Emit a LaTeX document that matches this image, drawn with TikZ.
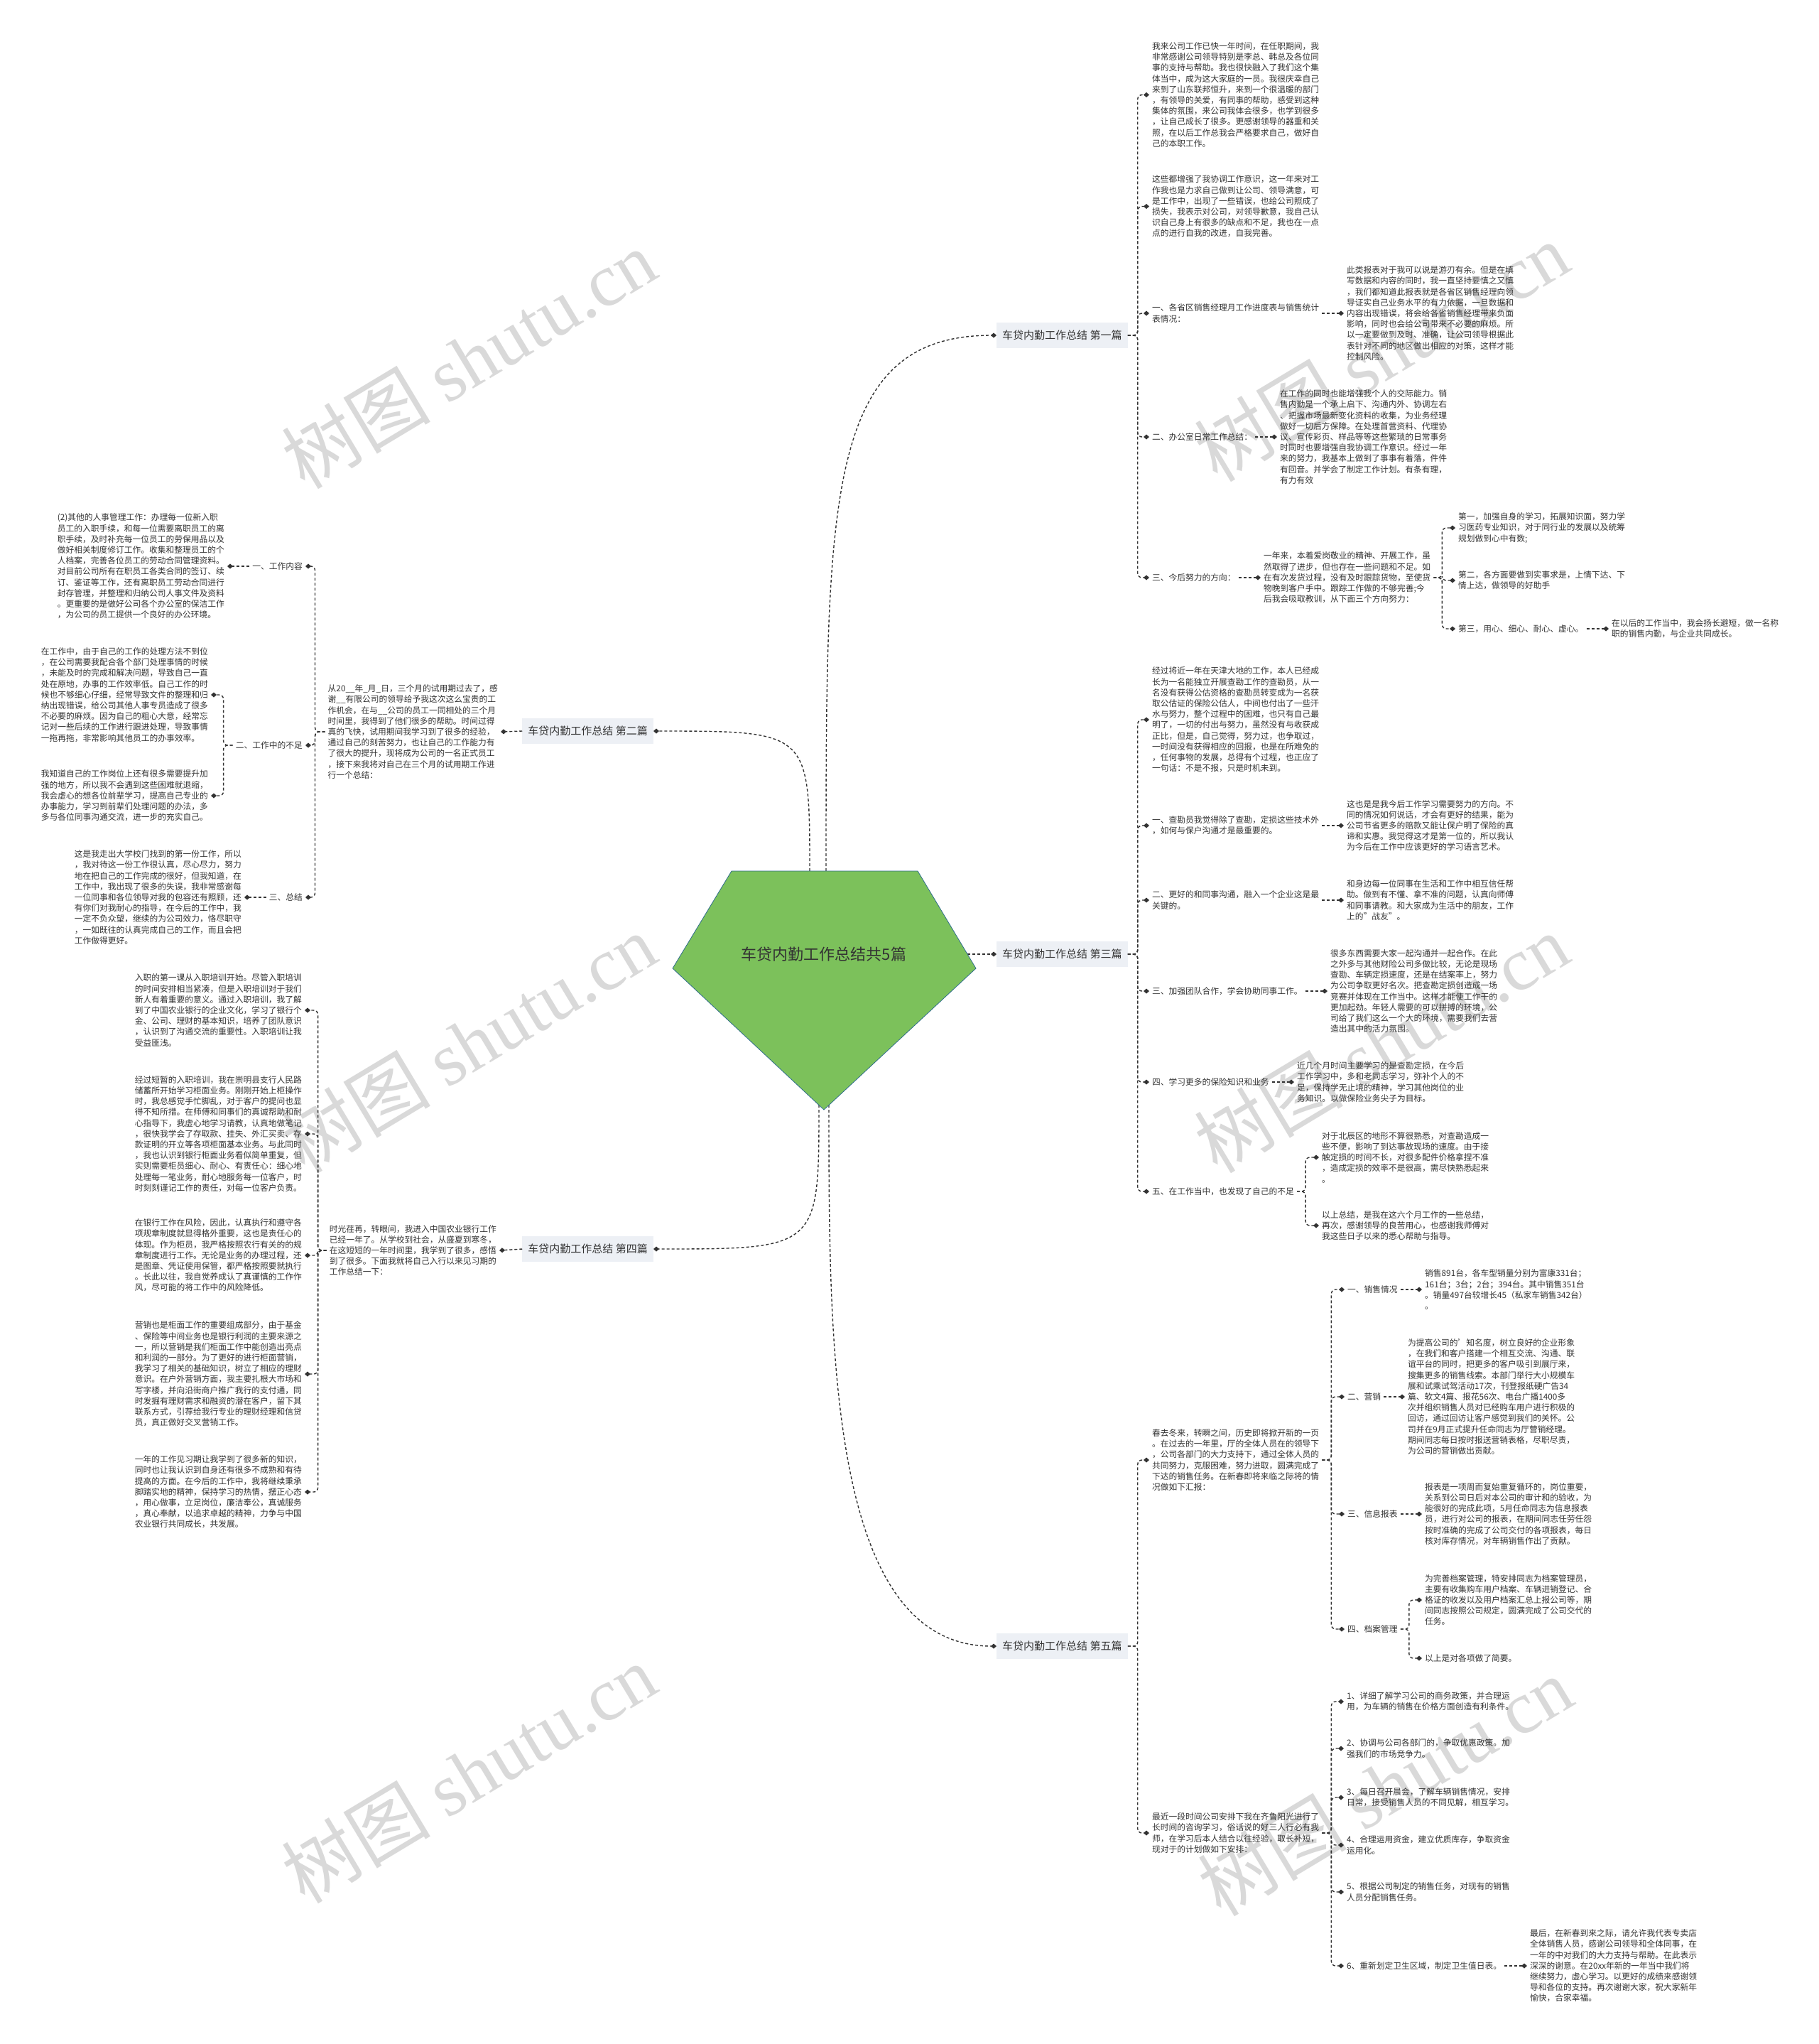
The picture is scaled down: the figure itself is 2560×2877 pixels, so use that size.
\documentclass[tikz,border=0pt]{standalone}
\usepackage{fontspec}
\setmainfont{Noto Sans CJK SC}
\newfontfamily\wmserif{Liberation Serif}
\usetikzlibrary{arrows.meta}
\definecolor{rootgreen}{HTML}{7CC15B}
\definecolor{rootedge}{HTML}{2F6D8C}
\definecolor{labelbg}{HTML}{EDF0F5}
\definecolor{txtdark}{HTML}{333333}
\definecolor{wmgray}{HTML}{D9D9D9}
\begin{document}
\begin{tikzpicture}[x=1pt,y=-1pt,
  txt/.style={align=left,inner xsep=4pt,inner ysep=2pt,text=txtdark,font=\fontsize{11.75}{15.2}\selectfont},
  branch/.style={fill=labelbg,text=txtdark,inner xsep=8pt,inner ysep=0pt,minimum height=36pt,font=\fontsize{15}{18}\selectfont},
  conn/.style={draw=txtdark,line width=1.4pt,dash pattern=on 4pt off 3pt,rounded corners=6pt,-{Diamond[length=8pt,width=7pt]}},
  wmark/.style={text=wmgray,rotate=31,font=\fontsize{105}{105}\selectfont}]
\useasboundingbox (0,0) rectangle (2560,2877);
\fill[white] (0,0) rectangle (2560,2877);
\node[wmark] (wm1) at (660,505) {树图 {\wmserif shutu.cn}};
\node[wmark] (wm2) at (1945,495) {树图 {\wmserif shutu.cn}};
\node[wmark] (wm3) at (660,1468) {树图 {\wmserif shutu.cn}};
\node[wmark] (wm4) at (1945,1468) {树图 {\wmserif shutu.cn}};
\node[wmark] (wm5) at (660,2496) {树图 {\wmserif shutu.cn}};
\node[wmark] (wm6) at (1950,2514) {树图 {\wmserif shutu.cn}};

\coordinate (pA) at (1030,1226);
\coordinate (pB) at (1292,1226);
\coordinate (pC) at (1374,1363);
\coordinate (pD) at (1160,1562);
\coordinate (pE) at (947,1363);
\coordinate (o1) at (1163,1226);
\coordinate (o2) at (1140,1226);
\coordinate (o3) at (1362,1343);
\coordinate (o4) at (1153,1555);
\coordinate (o5) at (1167,1555);

\node[branch,anchor=west] (b1) at (1403,472) {车贷内勤工作总结 第一篇};
\node[branch,anchor=east] (b2) at (920,1029) {车贷内勤工作总结 第二篇};
\node[branch,anchor=west] (b3) at (1403,1343) {车贷内勤工作总结 第三篇};
\node[branch,anchor=east] (b4) at (920,1758) {车贷内勤工作总结 第四篇};
\node[branch,anchor=west] (b5) at (1403,2317) {车贷内勤工作总结 第五篇};

% 第一篇
\node[txt,anchor=west] (b1p1) at (1618,133.5) {我来公司工作已快一年时间，在任职期间，我\\非常感谢公司领导特别是李总、韩总及各位同\\事的支持与帮助。我也很快融入了我们这个集\\体当中，成为这大家庭的一员。我很庆幸自己\\来到了山东联邦恒升，来到一个很温暖的部门\\，有领导的关爱，有同事的帮助，感受到这种\\集体的氛围，来公司我体会很多，也学到很多\\，让自己成长了很多。更感谢领导的器重和关\\照，在以后工作总我会严格要求自己，做好自\\己的本职工作。};
\node[txt,anchor=west] (b1p2) at (1618,290.5) {这些都增强了我协调工作意识，这一年来对工\\作我也是力求自己做到让公司、领导满意，可\\是工作中，出现了一些错误，也给公司照成了\\损失，我表示对公司，对领导歉意，我自己认\\识自己身上有很多的缺点和不足，我也在一点\\点的进行自我的改进，自我完善。};
\node[txt,anchor=west] (b1i1) at (1618,441) {一、各省区销售经理月工作进度表与销售统计\\表情况：};
\node[txt,anchor=west] (b1i1s) at (1892,441) {此类报表对于我可以说是游刃有余。但是在填\\写数据和内容的同时，我一直坚持要慎之又慎\\，我们都知道此报表就是各省区销售经理向领\\导证实自己业务水平的有力依据，一旦数据和\\内容出现错误，将会给各省销售经理带来负面\\影响，同时也会给公司带来不必要的麻烦。所\\以一定要做到及时、准确，让公司领导根据此\\表针对不同的地区做出相应的对策，这样才能\\控制风险。};
\node[txt,anchor=west] (b1i2) at (1618,615) {二、办公室日常工作总结：};
\node[txt,anchor=west] (b1i2s) at (1798,615) {在工作的同时也能增强我个人的交际能力。销\\售内勤是一个承上启下、沟通内外、协调左右\\、把握市场最新变化资料的收集，为业务经理\\做好一切后方保障。在处理首营资料、代理协\\议、宣传彩页、样品等等这些繁琐的日常事务\\时同时也要增强自我协调工作意识。经过一年\\来的努力，我基本上做到了事事有着落，件件\\有回音。并学会了制定工作计划。有条有理，\\有力有效};
\node[txt,anchor=west] (b1i3) at (1618,813) {三、今后努力的方向：};
\node[txt,anchor=west] (b1i3s) at (1775,813) {一年来，本着爱岗敬业的精神、开展工作，虽\\然取得了进步，但也存在一些问题和不足。如\\在有次发货过程，没有及时跟踪货物，至使货\\物晚到客户手中。跟踪工作做的不够完善;今\\后我会吸取教训，从下面三个方向努力：};
\node[txt,anchor=west] (b1i3a) at (2049,743) {第一，加强自身的学习，拓展知识面，努力学\\习医药专业知识，对于同行业的发展以及统筹\\规划做到心中有数;};
\node[txt,anchor=west] (b1i3b) at (2049,817) {第二，各方面要做到实事求是，上情下达、下\\情上达，做领导的好助手};
\node[txt,anchor=west] (b1i3c) at (2049,885) {第三，用心、细心、耐心、虚心。};
\node[txt,anchor=west] (b1i3cs) at (2265,885) {在以后的工作当中，我会扬长避短，做一名称\\职的销售内勤，与企业共同成长。};

% 第二篇
\node[txt,anchor=east] (b2in) at (705,1030) {从20\_\_年\_月\_日，三个月的试用期过去了，感\\谢\_\_有限公司的领导给予我这次这么宝贵的工\\作机会，在与\_\_公司的员工一同相处的三个月\\时间里，我得到了他们很多的帮助。时间过得\\真的飞快，试用期间我学习到了很多的经验，\\通过自己的刻苦努力，也让自己的工作能力有\\了很大的提升，现将成为公司的一名正式员工\\，接下来我将对自己在三个月的试用期工作进\\行一个总结：};
\node[txt,anchor=east] (b2i1) at (430,797) {一、工作内容};
\node[txt,anchor=east] (b2i1s) at (320,797) {(2)其他的人事管理工作：办理每一位新入职\\员工的入职手续，和每一位需要离职员工的离\\职手续，及时补充每一位员工的劳保用品以及\\做好相关制度修订工作。收集和整理员工的个\\人档案，完善各位员工的劳动合同管理资料。\\对目前公司所有在职员工各类合同的签订、续\\订、鉴证等工作，还有离职员工劳动合同进行\\封存管理，并整理和归纳公司人事文件及资料\\。更重要的是做好公司各个办公室的保洁工作\\，为公司的员工提供一个良好的办公环境。};
\node[txt,anchor=east] (b2i2) at (430,1049) {二、工作中的不足};
\node[txt,anchor=east] (b2i2a) at (297,978) {在工作中，由于自己的工作的处理方法不到位\\，在公司需要我配合各个部门处理事情的时候\\，未能及时的完成和解决问题，导致自己一直\\处在原地，办事的工作效率低。自己工作的时\\候也不够细心仔细，经常导致文件的整理和归\\纳出现错误，给公司其他人事专员造成了很多\\不必要的麻烦。因为自己的粗心大意，经常忘\\记对一些后续的工作进行跟进处理，导致事情\\一拖再拖，非常影响其他员工的办事效率。};
\node[txt,anchor=east] (b2i2b) at (297,1120) {我知道自己的工作岗位上还有很多需要提升加\\强的地方，所以我不会遇到这些困难就退缩，\\我会虚心的想各位前辈学习，提高自己专业的\\办事能力，学习到前辈们处理问题的办法，多\\多与各位同事沟通交流，进一步的充实自己。};
\node[txt,anchor=east] (b2i3) at (430,1263) {三、总结};
\node[txt,anchor=east] (b2i3s) at (344,1263) {这是我走出大学校门找到的第一份工作，所以\\，我对待这一份工作很认真，尽心尽力，努力\\地在把自己的工作完成的很好，但我知道，在\\工作中，我出现了很多的失误，我非常感谢每\\一位同事和各位领导对我的包容还有照顾，还\\有你们对我耐心的指导，在今后的工作中，我\\一定不负众望，继续的为公司效力，恪尽职守\\，一如既往的认真完成自己的工作，而且会把\\工作做得更好。};

% 第三篇
\node[txt,anchor=west] (b3in) at (1618,1013) {经过将近一年在天津大地的工作，本人已经成\\长为一名能独立开展查勘工作的查勘员，从一\\名没有获得公估资格的查勘员转变成为一名获\\取公估证的保险公估人，中间也付出了一些汗\\水与努力，整个过程中的困难，也只有自己最\\明了，一切的付出与努力，虽然没有与收获成\\正比，但是，自己觉得，努力过，也争取过，\\一时间没有获得相应的回报，也是在所难免的\\，任何事物的发展，总得有个过程，也正应了\\一句话：不是不报，只是时机未到。};
\node[txt,anchor=west] (b3i1) at (1618,1162) {一、查勘员我觉得除了查勘，定损这些技术外\\，如何与保户沟通才是最重要的。};
\node[txt,anchor=west] (b3i1s) at (1892,1162) {这也是是我今后工作学习需要努力的方向。不\\同的情况如何说话，才会有更好的结果，能为\\公司节省更多的赔款又能让保户明了保险的真\\谛和实惠。我觉得这才是第一位的，所以我认\\为今后在工作中应该更好的学习语言艺术。};
\node[txt,anchor=west] (b3i2) at (1618,1267) {二、更好的和同事沟通，融入一个企业这是最\\关键的。};
\node[txt,anchor=west] (b3i2s) at (1892,1267) {和身边每一位同事在生活和工作中相互信任帮\\助。做到有不懂、拿不准的问题，认真向师傅\\和同事请教。和大家成为生活中的朋友，工作\\上的"战友"。};
\node[txt,anchor=west] (b3i3) at (1618,1395) {三、加强团队合作，学会协助同事工作。};
\node[txt,anchor=west] (b3i3s) at (1869,1395) {很多东西需要大家一起沟通并一起合作。在此\\之外多与其他财险公司多做比较，无论是现场\\查勘、车辆定损速度，还是在结案率上，努力\\为公司争取更好名次。把查勘定损创造成一场\\竞赛并体现在工作当中。这样才能使工作干的\\更加起劲。年轻人需要的可以拼搏的环境，公\\司给了我们这么一个大的环境，需要我们去营\\造出其中的活力氛围。};
\node[txt,anchor=west] (b3i4) at (1618,1523) {四、学习更多的保险知识和业务};
\node[txt,anchor=west] (b3i4s) at (1822,1523) {近几个月时间主要学习的是查勘定损，在今后\\工作学习中，多和老同志学习，弥补个人的不\\足，保持学无止境的精神，学习其他岗位的业\\务知识。以做保险业务尖子为目标。};
\node[txt,anchor=west] (b3i5) at (1618,1677) {五、在工作当中，也发现了自己的不足};
\node[txt,anchor=west] (b3i5a) at (1857,1629) {对于北辰区的地形不算很熟悉，对查勘造成一\\些不便，影响了到达事故现场的速度。由于接\\触定损的时间不长，对很多配件价格拿捏不准\\，造成定损的效率不是很高，需尽快熟悉起来\\。};
\node[txt,anchor=west] (b3i5b) at (1857,1725) {以上总结，是我在这六个月工作的一些总结，\\再次，感谢领导的良苦用心，也感谢我师傅对\\我这些日子以来的悉心帮助与指导。};

% 第四篇
\node[txt,anchor=east] (b4in) at (703,1760) {时光荏苒，转眼间，我进入中国农业银行工作\\已经一年了。从学校到社会，从盛夏到寒冬，\\在这短短的一年时间里，我学到了很多，感悟\\到了很多。下面我就将自己入行以来见习期的\\工作总结一下：};
\node[txt,anchor=east] (b4p1) at (429,1422) {入职的第一课从入职培训开始。尽管入职培训\\的时间安排相当紧凑，但是入职培训对于我们\\新人有着重要的意义。通过入职培训，我了解\\到了中国农业银行的企业文化，学习了银行个\\金、公司、理财的基本知识，培养了团队意识\\，认识到了沟通交流的重要性。入职培训让我\\受益匪浅。};
\node[txt,anchor=east] (b4p2) at (429,1596) {经过短暂的入职培训，我在崇明县支行人民路\\储蓄所开始学习柜面业务。刚刚开始上柜操作\\时，我总感觉手忙脚乱，对于客户的提问也显\\得不知所措。在师傅和同事们的真诚帮助和耐\\心指导下，我虚心地学习请教，认真地做笔记\\，很快我学会了存取款、挂失、外汇买卖、存\\款证明的开立等各项柜面基本业务。与此同时\\，我也认识到银行柜面业务看似简单重复，但\\实则需要柜员细心、耐心、有责任心：细心地\\处理每一笔业务，耐心地服务每一位客户，时\\时刻刻谨记工作的责任，对每一位客户负责。};
\node[txt,anchor=east] (b4p3) at (429,1767) {在银行工作在风险，因此，认真执行和遵守各\\项规章制度就显得格外重要，这也是责任心的\\体现。作为柜员，我严格按照农行有关的的规\\章制度进行工作。无论是业务的办理过程，还\\是图章、凭证使用保管，都严格按照要就执行\\。长此以往，我自觉养成认了真谨慎的工作作\\风，尽可能的将工作中的风险降低。};
\node[txt,anchor=east] (b4p4) at (429,1934) {营销也是柜面工作的重要组成部分，由于基金\\、保险等中间业务也是银行利润的主要来源之\\一，所以营销是我们柜面工作中能创造出亮点\\和利润的一部分。为了更好的进行柜面营销，\\我学习了相关的基础知识，树立了相应的理财\\意识。在户外营销方面，我主要扎根大市场和\\写字楼，并向沿街商户推广我行的支付通，同\\时发掘有理财需求和融资的潜在客户，留下其\\联系方式，引荐给我行专业的理财经理和信贷\\员，真正做好交叉营销工作。};
\node[txt,anchor=east] (b4p5) at (429,2100) {一年的工作见习期让我学到了很多新的知识，\\同时也让我认识到自身还有很多不成熟和有待\\提高的方面。在今后的工作中，我将继续秉承\\脚踏实地的精神，保持学习的热情，摆正心态\\，用心做事，立足岗位，廉洁奉公，真诚服务\\，真心奉献，以追求卓越的精神，力争与中国\\农业银行共同成长，共发展。};

% 第五篇
\node[txt,anchor=west] (b5in) at (1618,2055) {春去冬来，转瞬之间，历史即将掀开新的一页\\。在过去的一年里，厅的全体人员在的领导下\\，公司各部门的大力支持下，通过全体人员的\\共同努力，克服困难，努力进取，圆满完成了\\下达的销售任务。在新春即将来临之际将的情\\况做如下汇报：};
\node[txt,anchor=west] (b5i1) at (1893,1815) {一、销售情况};
\node[txt,anchor=west] (b5i1s) at (2002,1815) {销售891台，各车型销量分别为富康331台；\\161台；3台；2台；394台。其中销售351台\\。销量497台较增长45（私家车销售342台）\\。};
\node[txt,anchor=west] (b5i2) at (1893,1966) {二、营销};
\node[txt,anchor=west] (b5i2s) at (1978,1966) {为提高公司的'知名度，树立良好的企业形象\\，在我们和客户搭建一个相互交流、沟通、联\\谊平台的同时，把更多的客户吸引到展厅来，\\搜集更多的销售线索。本部门举行大小规模车\\展和试乘试驾活动17次，刊登报纸硬广告34\\篇、软文4篇、报花56次、电台广播1400多\\次并组织销售人员对已经购车用户进行积极的\\回访，通过回访让客户感觉到我们的关怀。公\\司并在9月正式提升任命同志为厅营销经理。\\期间同志每日按时报送营销表格，尽职尽责，\\为公司的营销做出贡献。};
\node[txt,anchor=west] (b5i3) at (1893,2131) {三、信息报表};
\node[txt,anchor=west] (b5i3s) at (2002,2131) {报表是一项周而复始重复循环的，岗位重要，\\关系到公司日后对本公司的审计和的验收，为\\能很好的完成此项，5月任命同志为信息报表\\员，进行对公司的报表，在期间同志任劳任怨\\按时准确的完成了公司交付的各项报表，每日\\核对库存情况，对车辆销售作出了贡献。};
\node[txt,anchor=west] (b5i4) at (1893,2293) {四、档案管理};
\node[txt,anchor=west] (b5i4a) at (2002,2252) {为完善档案管理，特安排同志为档案管理员，\\主要有收集购车用户档案、车辆进销登记、合\\格证的收发以及用户档案汇总上报公司等，期\\间同志按照公司规定，圆满完成了公司交代的\\任务。};
\node[txt,anchor=west] (b5i4b) at (2002,2334) {以上是对各项做了简要。};
\node[txt,anchor=west] (b5pl) at (1618,2580) {最近一段时间公司安排下我在齐鲁阳光进行了\\长时间的咨询学习，俗话说的好三人行必有我\\师，在学习后本人结合以往经验，取长补短，\\现对于的计划做如下安排：};
\node[txt,anchor=west] (b5pl1) at (1892,2395) {1、详细了解学习公司的商务政策，并合理运\\用，为车辆的销售在价格方面创造有利条件。};
\node[txt,anchor=west] (b5pl2) at (1892,2461) {2、协调与公司各部门的，争取优惠政策。加\\强我们的市场竞争力。};
\node[txt,anchor=west] (b5pl3) at (1892,2530) {3、每日召开晨会，了解车辆销售情况，安排\\日常，接受销售人员的不同见解，相互学习。};
\node[txt,anchor=west] (b5pl4) at (1892,2597) {4、合理运用资金，建立优质库存，争取资金\\运用化。};
\node[txt,anchor=west] (b5pl5) at (1892,2663) {5、根据公司制定的销售任务，对现有的销售\\人员分配销售任务。};
\node[txt,anchor=west] (b5pl6) at (1892,2767) {6、重新划定卫生区域，制定卫生值日表。};
\node[txt,anchor=west] (b5pl6s) at (2150,2767) {最后，在新春到来之际，请允许我代表专卖店\\全体销售人员，感谢公司领导和全体同事，在\\一年的中对我们的大力支持与帮助。在此表示\\深深的谢意。在20xx年新的一年当中我们将\\继续努力，虚心学习。以更好的成绩来感谢领\\导和各位的支持。再次谢谢大家，祝大家新年\\愉快，合家幸福。};

% connectors
\draw[conn] (o1) .. controls (1163,700) and (1163,472) .. (b1.west);
\draw[conn] (o2) .. controls (1140,1029) .. (b2.east);
\draw[conn] (o3) -- (b3.west);
\draw[conn] (o4) .. controls (1153,1758) .. (b4.east);
\draw[conn] (o5) .. controls (1167,1900) and (1167,2317) .. (b5.west);

\foreach \c in {b1p1,b1p2,b1i1,b1i2,b1i3}
  \draw[conn] (b1.east) -- ++(14,0) |- (\c.west);
\draw[conn] (b1i1.east) -- (b1i1s.west);
\draw[conn] (b1i2.east) -- (b1i2s.west);
\draw[conn] (b1i3.east) -- (b1i3s.west);
\foreach \c in {b1i3a,b1i3b,b1i3c}
  \draw[conn] (b1i3s.east) -- ++(12,0) |- (\c.west);
\draw[conn] (b1i3c.east) -- (b1i3cs.west);

\draw[conn] (b2.west) -- (b2in.east);
\foreach \c in {b2i1,b2i2,b2i3}
  \draw[conn] (b2in.west) -- ++(-14,0) |- (\c.east);
\draw[conn] (b2i1.west) -- (b2i1s.east);
\foreach \c in {b2i2a,b2i2b}
  \draw[conn] (b2i2.west) -- ++(-13,0) |- (\c.east);
\draw[conn] (b2i3.west) -- (b2i3s.east);

\foreach \c in {b3in,b3i1,b3i2,b3i3,b3i4,b3i5}
  \draw[conn] (b3.east) -- ++(14,0) |- (\c.west);
\draw[conn] (b3i1.east) -- (b3i1s.west);
\draw[conn] (b3i2.east) -- (b3i2s.west);
\draw[conn] (b3i3.east) -- (b3i3s.west);
\draw[conn] (b3i4.east) -- (b3i4s.west);
\foreach \c in {b3i5a,b3i5b}
  \draw[conn] (b3i5.east) -- ++(12,0) |- (\c.west);

\draw[conn] (b4.west) -- (b4in.east);
\foreach \c in {b4p1,b4p2,b4p3,b4p4,b4p5}
  \draw[conn] (b4in.west) -- ++(-12,0) |- (\c.east);

\foreach \c in {b5in,b5pl}
  \draw[conn] (b5.east) -- ++(14,0) |- (\c.west);
\foreach \c in {b5i1,b5i2,b5i3,b5i4}
  \draw[conn] (b5in.east) -- ++(13,0) |- (\c.west);
\draw[conn] (b5i1.east) -- (b5i1s.west);
\draw[conn] (b5i2.east) -- (b5i2s.west);
\draw[conn] (b5i3.east) -- (b5i3s.west);
\foreach \c in {b5i4a,b5i4b}
  \draw[conn] (b5i4.east) -- ++(12,0) |- (\c.west);
\foreach \c in {b5pl1,b5pl2,b5pl3,b5pl4,b5pl5,b5pl6}
  \draw[conn] (b5pl.east) -- ++(13,0) |- (\c.west);
\draw[conn] (b5pl6.east) -- (b5pl6s.west);

% root
\filldraw[fill=rootgreen,draw=rootedge,line width=0.8pt] (pA) -- (pB) -- (pC) -- (pD) -- (pE) -- cycle;
\node[text=txtdark,font=\fontsize{22}{26}\selectfont] (root) at (1160,1343) {车贷内勤工作总结共5篇};
\end{tikzpicture}
\end{document}
